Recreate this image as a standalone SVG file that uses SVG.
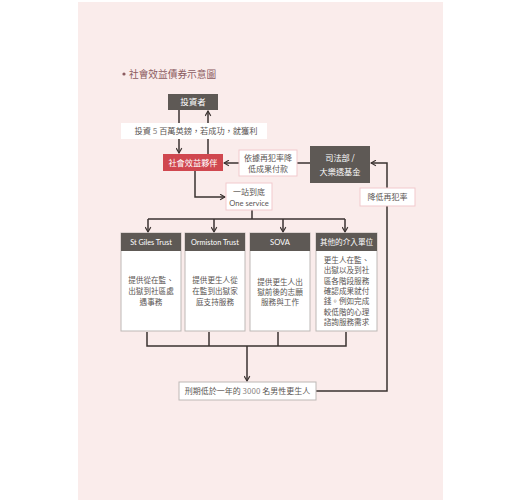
<svg xmlns="http://www.w3.org/2000/svg" width="520" height="500" viewBox="0 0 520 500">
<defs>
<marker id="arr" viewBox="0 0 10 10" refX="9" refY="5" markerWidth="7" markerHeight="7" markerUnits="userSpaceOnUse" orient="auto">
<path d="M2,1 L9,5 L2,9" fill="none" stroke="#3a3230" stroke-width="1.6"/>
</marker>
<style>
.t{font-family:"Noto Sans CJK TC","Noto Sans CJK SC",sans-serif;}
.w{fill:#ffffff;}
.g{fill:#5a5553;}
.dark{fill:#5e5955;}
.lbl{fill:#ffffff;stroke:#f1c9cd;stroke-width:1;}
.box{fill:#ffffff;stroke:#bdb8b6;stroke-width:1;}
.ln{fill:none;stroke:#3a3230;stroke-width:1.5;}
.en{font-family:Lato,"Open Sans",sans-serif;}
</style>
</defs>
<rect x="0" y="0" width="520" height="500" fill="#ffffff"/>
<rect x="78" y="2" width="365" height="498" fill="#faeceb"/>
<g id="title">
<circle cx="124" cy="74" r="1.6" fill="#8b5b60"/>
<text class="t" x="129" y="77.5" font-size="9.7" fill="#8b5b60">社會效益債券示意圖</text>
</g>
<g id="connectors">
<path class="ln" d="M179,110 V153" marker-end="url(#arr)"/>
<path class="ln" d="M208,154 V111" marker-end="url(#arr)"/>
<path class="ln" d="M310,163 H224" marker-end="url(#arr)"/>
<path class="ln" d="M195,171 V197 H225" marker-end="url(#arr)"/>
<path class="ln" d="M252,210 V219"/>
<path class="ln" d="M148,219 H345"/>
<path class="ln" d="M148,219 V232" marker-end="url(#arr)"/>
<path class="ln" d="M214,219 V232" marker-end="url(#arr)"/>
<path class="ln" d="M283,219 V232" marker-end="url(#arr)"/>
<path class="ln" d="M345,219 V232" marker-end="url(#arr)"/>
<path class="ln" d="M147,332 V346 H346 V332"/>
<path class="ln" d="M209,332 V346"/>
<path class="ln" d="M278,332 V346"/>
<path class="ln" d="M247,346 V381" marker-end="url(#arr)"/>
<path class="ln" d="M316,391 H387 V163 H371" marker-end="url(#arr)"/>
</g>
<g id="investor">
<rect class="dark" x="168" y="94" width="50" height="16"/>
<text class="t w" x="193" y="105.2" font-size="8.5" text-anchor="middle">投資者</text>
</g>
<g id="label-invest">
<rect x="121" y="123" width="146" height="16" fill="#ffffff"/>
<text class="t g" x="196" y="134" font-size="8.2" text-anchor="middle">投資 <tspan fill="#8a8583">5</tspan> 百萬英鎊，若成功，就獲利</text>
</g>
<g id="partner">
<rect x="163" y="154" width="60" height="17" fill="#d0474f"/>
<text class="t w" x="193" y="165.5" font-size="8.2" text-anchor="middle">社會效益夥伴</text>
</g>
<g id="label-pay">
<rect class="lbl" x="239" y="150" width="58" height="26"/>
<text class="t g" x="268" y="161" font-size="8" text-anchor="middle">依據再犯率降</text>
<text class="t g" x="268" y="171.5" font-size="8" text-anchor="middle">低成果付款</text>
</g>
<g id="justice">
<rect class="dark" x="310" y="146" width="60" height="37"/>
<text class="t w" x="340" y="161" font-size="8.2" text-anchor="middle">司法部 /</text>
<text class="t w" x="340" y="175" font-size="8.2" text-anchor="middle">大樂透基金</text>
</g>
<g id="label-reduce">
<rect class="lbl" x="360" y="188" width="55" height="18"/>
<text class="t g" x="387.5" y="200" font-size="8" text-anchor="middle">降低再犯率</text>
</g>
<g id="one-service">
<rect class="lbl" x="226" y="183" width="46" height="27"/>
<text class="t g" x="249" y="194.5" font-size="8" text-anchor="middle">一站到底</text>
<text class="en g" x="249" y="205.5" font-size="7.6" text-anchor="middle">One service</text>
</g>
<g id="st-giles">
<rect class="box" x="121" y="233" width="60" height="98"/>
<rect class="dark" x="121" y="233" width="60" height="18"/>
<text class="en w" x="151" y="245" font-size="7.3" text-anchor="middle">St Giles Trust</text>
<text class="t g" x="151" y="283" font-size="7.6" text-anchor="middle">提供從在監、</text>
<text class="t g" x="151" y="294" font-size="7.6" text-anchor="middle">出獄到社區處</text>
<text class="t g" x="151" y="305" font-size="7.6" text-anchor="middle">遇事務</text>
</g>
<g id="ormiston">
<rect class="box" x="185" y="233" width="60" height="98"/>
<rect class="dark" x="185" y="233" width="60" height="18"/>
<text class="en w" x="215" y="245" font-size="7.3" text-anchor="middle">Ormiston Trust</text>
<text class="t g" x="215" y="283" font-size="7.6" text-anchor="middle">提供更生人從</text>
<text class="t g" x="215" y="294" font-size="7.6" text-anchor="middle">在監到出獄家</text>
<text class="t g" x="215" y="305" font-size="7.6" text-anchor="middle">庭支持服務</text>
</g>
<g id="sova">
<rect class="box" x="250" y="233" width="60" height="98"/>
<rect class="dark" x="250" y="233" width="60" height="18"/>
<text class="en w" x="280" y="245" font-size="7.6" text-anchor="middle">SOVA</text>
<text class="t g" x="280" y="285" font-size="7.6" text-anchor="middle">提供更生人出</text>
<text class="t g" x="280" y="295" font-size="7.6" text-anchor="middle">獄前後的志願</text>
<text class="t g" x="280" y="305" font-size="7.6" text-anchor="middle">服務與工作</text>
</g>
<g id="others">
<rect class="box" x="316" y="233" width="61" height="98"/>
<rect class="dark" x="316" y="233" width="61" height="18"/>
<text class="t w" x="346.5" y="245" font-size="7.6" text-anchor="middle">其他的介入單位</text>
<text class="t g" x="346.5" y="263" font-size="7.6" text-anchor="middle">更生人在監、</text>
<text class="t g" x="346.5" y="273.3" font-size="7.6" text-anchor="middle">出獄以及到社</text>
<text class="t g" x="346.5" y="283.6" font-size="7.6" text-anchor="middle">區各階段服務</text>
<text class="t g" x="346.5" y="293.9" font-size="7.6" text-anchor="middle">確認成果就付</text>
<text class="t g" x="346.5" y="304.2" font-size="7.6" text-anchor="middle">錢。例如完成</text>
<text class="t g" x="346.5" y="314.5" font-size="7.6" text-anchor="middle">較低階的心理</text>
<text class="t g" x="346.5" y="324.8" font-size="7.6" text-anchor="middle">諮詢服務需求</text>
</g>
<g id="offenders">
<rect class="box" x="179" y="382" width="137" height="18"/>
<text class="t g" x="247.5" y="394" font-size="8" text-anchor="middle">刑期低於一年的 <tspan fill="#8a8583">3000</tspan> 名男性更生人</text>
</g>
</svg>
